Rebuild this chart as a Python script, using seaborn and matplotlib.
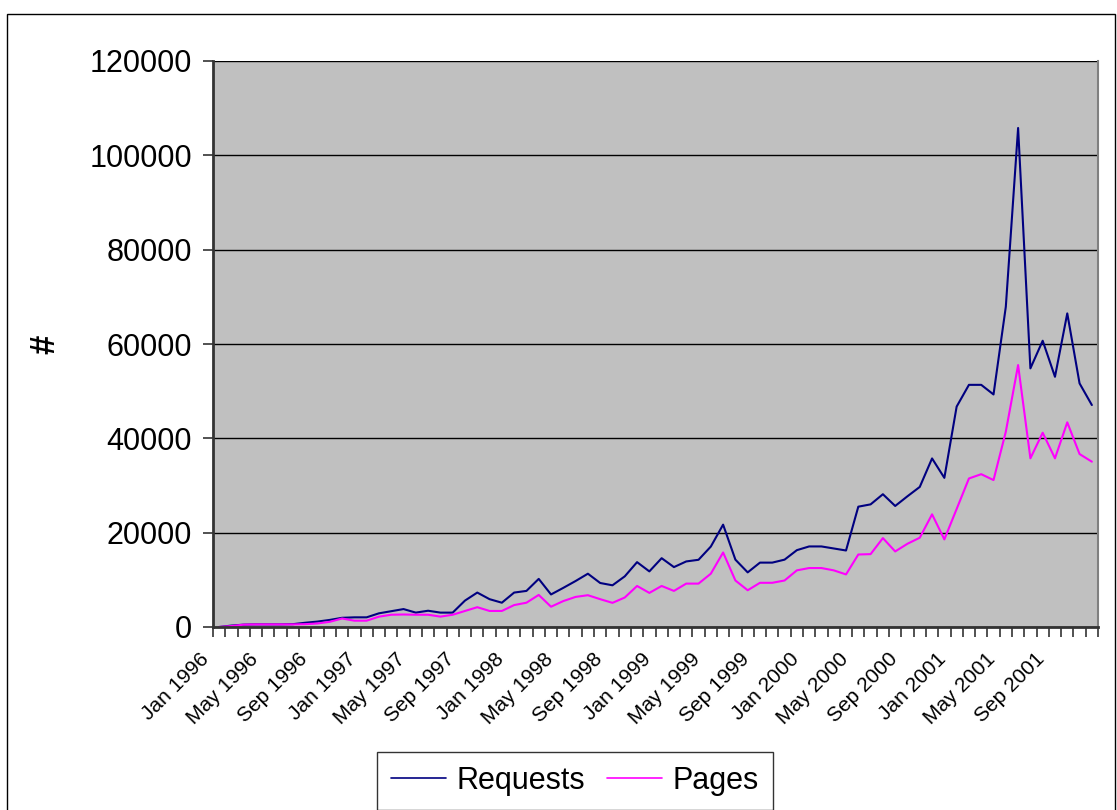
import pandas as pd
import numpy as np
import matplotlib
matplotlib.use("Agg")
import matplotlib.pyplot as plt
import matplotlib.transforms as mtransforms
import seaborn as sns
from matplotlib.patches import Rectangle

# Monthly counts, Jan 1996 .. Dec 2001
months = pd.date_range("1996-01-01", "2001-12-01", freq="MS")

requests = [0, 300, 500, 550, 550, 550, 600, 900, 1150, 1500, 1950, 2050,
            2050, 2900, 3350, 3800, 3050, 3450, 3050, 3050, 5600, 7300, 5900, 5150,
            7300, 7650, 10200, 6900, 8300, 9750, 11300, 9330, 8840, 10740, 13750, 11790,
            14590, 12700, 13900, 14250, 17050, 21700, 14280, 11580, 13650, 13650, 14280, 16290,
            17080, 17080, 16650, 16220, 25510, 26000, 28150, 25660, 27720, 29700, 35740, 31620,
            46730, 51340, 51340, 49300, 67890, 105800, 54830, 60690, 53050, 66490, 51650, 47060]

pages = [0, 200, 500, 550, 550, 550, 550, 600, 750, 1100, 1800, 1340,
         1340, 2190, 2600, 2650, 2600, 2600, 2200, 2600, 3400, 4200, 3400, 3400,
         4650, 5150, 6800, 4300, 5500, 6380, 6740, 5900, 5120, 6250, 8700, 7230,
         8700, 7650, 9200, 9200, 11300, 15800, 9860, 7790, 9370, 9370, 9860, 12010,
         12500, 12500, 12010, 11150, 15370, 15450, 18850, 16020, 17650, 18930, 23890, 18570,
         25020, 31490, 32400, 31150, 41400, 55530, 35760, 41190, 35760, 43390, 36670, 35050]

tick_labels = ["Jan 1996", "May 1996", "Sep 1996", "Jan 1997", "May 1997", "Sep 1997",
               "Jan 1998", "May 1998", "Sep 1998", "Jan 1999", "May 1999", "Sep 1999",
               "Jan 2000", "May 2000", "Sep 2000", "Jan 2001", "May 2001", "Sep 2001"]

df = pd.DataFrame({"idx": np.arange(len(months)), "Requests": requests, "Pages": pages})
long_df = df.melt(id_vars="idx", var_name="series", value_name="count")

sns.set_style("white")
plt.rcParams["font.family"] = ["Liberation Sans", "DejaVu Sans"]
plt.rcParams["text.color"] = "black"
plt.rcParams["axes.labelcolor"] = "black"
plt.rcParams["xtick.color"] = "black"
plt.rcParams["ytick.color"] = "black"

fig = plt.figure(figsize=(11.17, 8.10), dpi=100)
ax = fig.add_axes([213 / 1117, 1 - 627 / 810, 885 / 1117, 566 / 810])
ax.set_facecolor("#C0C0C0")

sns.lineplot(data=long_df, x="idx", y="count", hue="series",
             palette={"Requests": "#000080", "Pages": "#FF00FF"},
             linewidth=1.5, ax=ax)

# axes
ax.set_xlim(-0.5, len(months) - 0.5)
ax.set_ylim(0, 120000)
ax.set_yticks(np.arange(0, 120001, 20000))
ax.tick_params(axis="y", left=True, labelsize=22, length=7, width=1.2,
               direction="out", pad=8, color="#333333")
ax.yaxis.grid(True, color="black", linewidth=1.0)
ax.set_axisbelow(True)

ax.set_xticks(np.arange(0, len(months), 4))
ax.set_xticklabels(tick_labels, rotation=45, ha="right", rotation_mode="anchor", fontsize=15)
ax.set_xticks(np.arange(-0.5, len(months), 1), minor=True)
ax.tick_params(axis="x", which="major", bottom=False, length=0, pad=14)
ax.tick_params(axis="x", which="minor", bottom=True, length=7, width=1.2,
               direction="out", color="#333333")
shift = mtransforms.ScaledTranslation(-0.20, -0.03, fig.dpi_scale_trans)
for lab in ax.get_xticklabels():
    lab.set_transform(lab.get_transform() + shift)

ax.set_xlabel("")
ax.set_ylabel("#", fontsize=25, fontweight="bold", labelpad=20)

for side in ["left", "bottom"]:
    ax.spines[side].set_color("#333333")
    ax.spines[side].set_linewidth(2)
ax.spines["top"].set_visible(False)
ax.spines["right"].set_color("#808080")
ax.spines["right"].set_linewidth(1.5)

# legend at the bottom
handles, labels = ax.get_legend_handles_labels()
ax.get_legend().remove()
leg = fig.legend(handles, labels, loc="center", bbox_to_anchor=(575 / 1117, 1 - 781 / 810),
                 ncol=2, fontsize=22, frameon=True, fancybox=False, edgecolor="black",
                 handlelength=1.8, columnspacing=0.7, borderpad=0.45, handletextpad=0.35)
leg.get_frame().set_linewidth(1.0)
for line in leg.get_lines():
    line.set_linewidth(1.2)

# outer chart border
fig.patches.append(Rectangle((7 / 1117, -0.02), 1108 / 1117, 1 - 14 / 810 + 0.02,
                             transform=fig.transFigure, fill=False, edgecolor="black",
                             linewidth=1.0))

fig.savefig("out.png", dpi=100)
